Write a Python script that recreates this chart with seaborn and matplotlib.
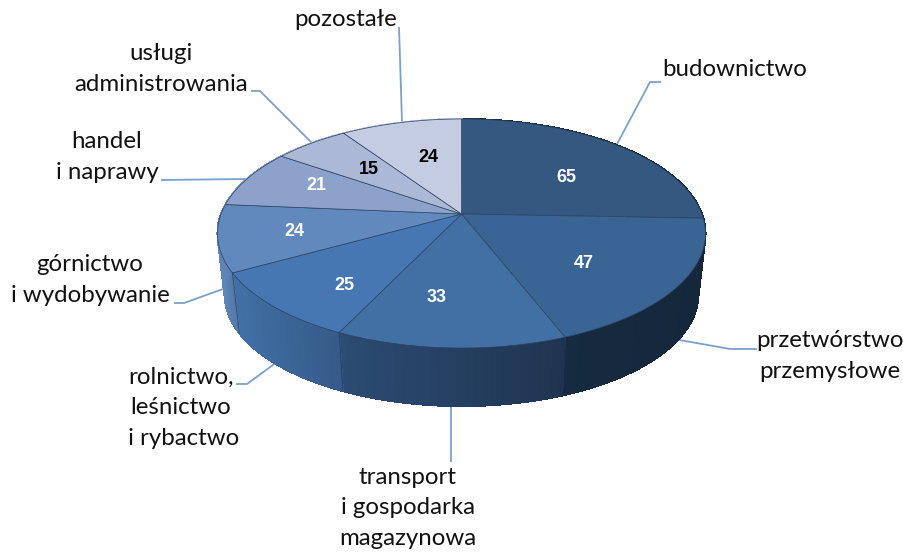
import numpy as np
import seaborn as sns
import matplotlib.pyplot as plt
from matplotlib.collections import LineCollection, PolyCollection
from matplotlib.colors import to_rgb
from matplotlib.patches import Polygon

# dane
categories = ['budownictwo', 'przetwórstwo\nprzemysłowe', 'transport\ni gospodarka\nmagazynowa',
              'rolnictwo,\nleśnictwo\n i rybactwo', 'górnictwo\ni wydobywanie', 'handel\ni naprawy',
              'usługi\nadministrowania', 'pozostałe']
values = [65, 47, 33, 25, 24, 21, 15, 24]

top_colors = ['#34587f', '#3a6494', '#4270a5', '#4677b3', '#6289bd', '#8da2ca', '#abb9d6', '#c3cce0']
wall_left = ['#1a2f47', '#162a40', '#2c4c73', '#4270a6', '#5f86b8', '#8da2ca', '#abb9d6', '#c3cce0']
wall_right = ['#14283c', '#15273b', '#1f3450', '#355a88', '#5276a8', '#8da2ca', '#abb9d6', '#c3cce0']
value_colors = ['white', 'white', 'white', 'white', 'white', 'white', 'black', 'black']

# polozenie etykiet (piksele)
value_pos = [(566, 177), (584, 263), (437, 297), (344, 285), (294, 232), (316, 186), (369, 170), (428, 158)]
label_pos = [(735, 69), (830, 356), (408, 508), (181, 408), (90, 280), (107, 157), (161, 69), (346, 20)]
leaders = [
    [(661, 82), (650, 82), (616, 146)],
    [(674, 339), (730, 349), (757, 349)],
    [(451, 405), (451, 462)],
    [(236, 384), (247, 384), (277, 362)],
    [(174, 303), (184, 303), (223, 289)],
    [(161, 180), (247, 179)],
    [(251, 91), (260, 91), (312, 143)],
    [(399, 27), (402, 122)],
]

CX, CY = 461.5, 214
K, A, B = 0.1703, 111.2, 240.4
DEPTH, SHRINK = 62, 0.97


def project(theta, bottom=False):
    # kat liczony od gory zgodnie z ruchem wskazowek, z lekka perspektywa
    u = np.sin(theta)
    v = np.cos(theta)
    x = B * u / (1 + K * v)
    y = -A * v / (1 + K * v)
    if bottom:
        return np.column_stack([CX + SHRINK * x, CY + DEPTH + SHRINK * y])
    return np.column_stack([CX + x, CY + y])


sns.set_theme(style='white')
plt.rcParams['font.family'] = ['Lato', 'DejaVu Sans']

fig, ax = plt.subplots(figsize=(9.04, 5.52), dpi=100)
fig.subplots_adjust(0, 0, 1, 1)
ax.set_axis_off()

edges = np.concatenate([[0], np.cumsum(values)]) / np.sum(values) * 2 * np.pi

# sciany boczne, z waskich pasow zeby dac gradient
for i in range(len(values)):
    t = np.linspace(edges[i], edges[i + 1], 90)
    upper, lower = project(t), project(t, bottom=True)
    quads = [[upper[j], upper[j + 1], lower[j + 1], lower[j]] for j in range(len(t) - 1)]
    xs = upper[:, 0]
    frac = (xs[:-1] - xs.min()) / (xs.max() - xs.min())
    cols = np.outer(1 - frac, to_rgb(wall_left[i])) + np.outer(frac, to_rgb(wall_right[i]))
    ax.add_collection(PolyCollection(quads, facecolors=cols, edgecolors=cols, linewidths=0.8,
                                     antialiaseds=False, zorder=1))
    # dolny luk wygladzony, bo pasy sa bez antyaliasingu
    segs = [[lower[j], lower[j + 1]] for j in range(len(t) - 1)]
    ax.add_collection(LineCollection(segs, colors=cols, linewidths=1.0, zorder=1))
    ax.plot([upper[0, 0], lower[0, 0]], [upper[0, 1], lower[0, 1]], color='#1d3552', lw=0.6, alpha=0.7, zorder=2)

# wierzch
for i in range(len(values)):
    t = np.linspace(edges[i], edges[i + 1], 120)
    poly = np.vstack([[CX, CY], project(t)])
    ax.add_patch(Polygon(poly, closed=True, facecolor=top_colors[i], edgecolor='#2b4261',
                         lw=0.5, zorder=3))

# linie odniesienia
for pts in leaders:
    pts = np.array(pts)
    ax.plot(pts[:, 0], pts[:, 1], color='#7ba0d0', lw=1.3, zorder=0, solid_capstyle='butt')

for val, pos, c in zip(values, value_pos, value_colors):
    ax.text(pos[0], pos[1], str(val), color=c, fontsize=13, fontweight='bold',
            family=['Liberation Sans', 'DejaVu Sans'], ha='center', va='center', zorder=5)

for cat, pos in zip(categories, label_pos):
    ax.text(pos[0], pos[1], cat, color='#111111', fontsize=17.3, ha='center', va='center',
            linespacing=1.55, zorder=5)

ax.set_xlim(0, 904)
ax.set_ylim(552, 0)
fig.savefig('out.png', dpi=100, facecolor='white')
